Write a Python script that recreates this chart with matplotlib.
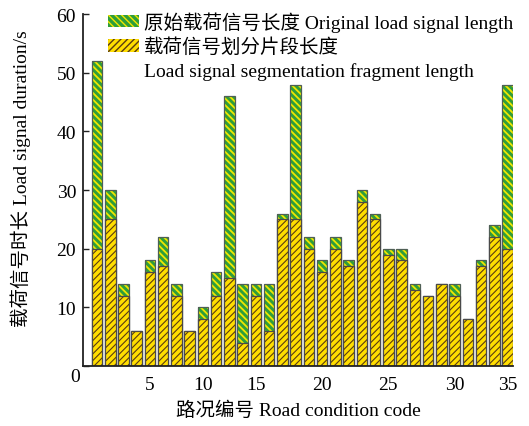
import matplotlib
matplotlib.use("Agg")
import matplotlib.pyplot as plt
from matplotlib.patches import Patch
import numpy as np

plt.rcParams['font.family'] = ['Liberation Serif', 'Noto Sans CJK SC']

# Road condition index, original signal length and segmented fragment length (s)
codes = list(range(1, 33))
original_len = [52, 30, 14, 6, 18, 22, 14, 6, 10, 16, 46, 14, 14, 14, 26, 48,
                22, 18, 22, 18, 30, 26, 20, 20, 14, 12, 14, 14, 8, 18, 24, 48]
fragment_len = [20, 25, 12, 6, 16, 17, 12, 6, 8, 12, 15, 4, 12, 6, 25, 25,
                20, 16, 20, 17, 28, 25, 19, 18, 13, 12, 14, 12, 8, 17, 22, 20]
tick_pos = [5, 9, 13, 18, 23, 28, 32]
tick_lab = ['5', '10', '15', '20', '25', '30', '35']
y_ticks = [0, 10, 20, 30, 40, 50, 60]
y_labels = ['', '10', '20', '30', '40', '50', '60']

green = '#2f9e3a'
green_hatch = '#f2e600'
yellow = '#ffde00'
yellow_hatch = '#5a3c10'

fs = 14

fig = plt.figure(figsize=(5.29, 4.27), dpi=100)
ax = fig.add_axes([0.157, 0.1405, 0.813, 0.824])

x = np.array(codes)
w = 0.8

with plt.rc_context({'hatch.linewidth': 1.3}):
    ax.bar(x, original_len, width=w, color=green, hatch='\\\\\\\\\\',
           edgecolor=green_hatch, linewidth=0, zorder=2)
ax.bar(x, original_len, width=w, fill=False, edgecolor='#4f5f55', linewidth=0.9, zorder=2.5)

with plt.rc_context({'hatch.linewidth': 0.8}):
    ax.bar(x, fragment_len, width=w, color=yellow, hatch='/////',
           edgecolor=yellow_hatch, linewidth=0, zorder=3)
ax.bar(x, fragment_len, width=w, fill=False, edgecolor='#4a4a4a', linewidth=0.9, zorder=3.5)

ax.set_xlim(-0.05, 32.42)
ax.set_ylim(0, 60)
ax.set_xticks(tick_pos)
ax.set_xticklabels(tick_lab)
ax.set_yticks(y_ticks)
ax.set_yticklabels(y_labels)
ax.tick_params(axis='both', direction='in', length=4.5, width=1.0, labelsize=fs,
               colors='#222222', labelcolor='black')
ax.tick_params(axis='x', pad=7)
ax.tick_params(axis='y', pad=5)
for side in ['top', 'right']:
    ax.spines[side].set_visible(False)
for side in ['left', 'bottom']:
    ax.spines[side].set_linewidth(1.3)
    ax.spines[side].set_color('#222222')
    ax.spines[side].set_zorder(5)

ax.text(-0.019, -0.031, '0', transform=ax.transAxes, ha='center', va='center', fontsize=fs)

ax.set_xlabel('路况编号 Road condition code', fontsize=fs, labelpad=6)
ax.set_ylabel('载荷信号时长 Load signal duration/s', fontsize=fs)
ax.yaxis.set_label_coords(-0.122, 0.534)

with plt.rc_context({'hatch.linewidth': 1.3}):
    h1 = Patch(facecolor=green, hatch='\\\\\\\\\\', edgecolor=green_hatch, linewidth=0)
with plt.rc_context({'hatch.linewidth': 0.8}):
    h2 = Patch(facecolor=yellow, hatch='/////', edgecolor=yellow_hatch, linewidth=0)
h3 = Patch(facecolor='none', edgecolor='none')
leg = ax.legend([h1, h2, h3],
                ['原始载荷信号长度 Original load signal length',
                 '载荷信号划分片段长度',
                 'Load signal segmentation fragment length'],
                loc='upper left', bbox_to_anchor=(0.058, 1.008), frameon=False,
                fontsize=fs, handlelength=1.6, handleheight=0.62, handletextpad=0.25,
                labelspacing=0.3, borderpad=0, borderaxespad=0)

fig.savefig('out.png', dpi=100)
